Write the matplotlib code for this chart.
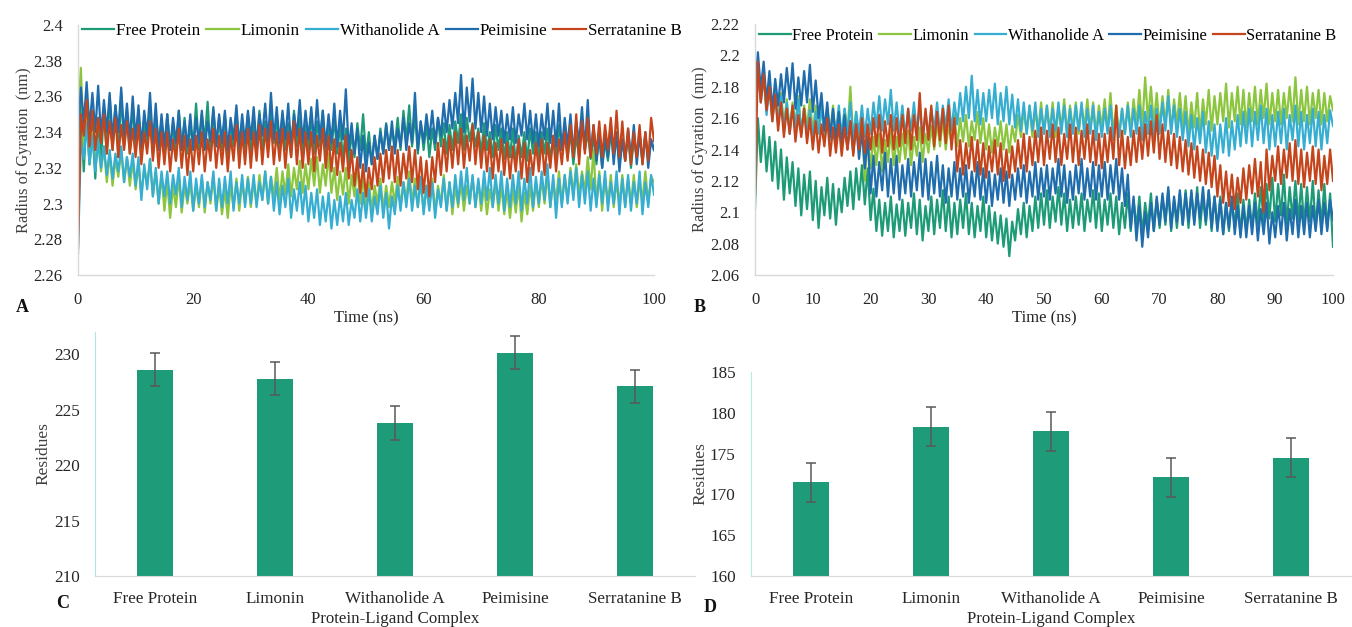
import numpy as np
import matplotlib
matplotlib.use("Agg")
import matplotlib.pyplot as plt
from matplotlib.ticker import FuncFormatter

plt.rcParams['font.family'] = ['Liberation Serif', 'DejaVu Serif']

# ---------------- data ----------------
series_names = ["Free Protein", "Limonin", "Withanolide A", "Peimisine", "Serratanine B"]
series_colors = ["#1d9a76", "#8cc63f", "#35aed2", "#1f6dad", "#c4451c"]
time_ns = np.arange(0, 100.5, 0.5)

A_free = [2.330, 2.355, 2.318, 2.350, 2.322, 2.345, 2.314, 2.348, 2.325, 2.352,
          2.328, 2.360, 2.330, 2.355, 2.326, 2.362, 2.332, 2.350, 2.328, 2.356,
          2.330, 2.352, 2.325, 2.348, 2.332, 2.355, 2.328, 2.350, 2.334, 2.346,
          2.326, 2.350, 2.330, 2.345, 2.324, 2.352, 2.330, 2.348, 2.328, 2.344,
          2.332, 2.356, 2.330, 2.350, 2.335, 2.357, 2.328, 2.352, 2.333, 2.348,
          2.330, 2.350, 2.326, 2.346, 2.332, 2.352, 2.328, 2.345, 2.330, 2.350,
          2.326, 2.348, 2.332, 2.352, 2.328, 2.346, 2.330, 2.355, 2.334, 2.348,
          2.328, 2.350, 2.330, 2.345, 2.326, 2.352, 2.332, 2.348, 2.328, 2.344,
          2.330, 2.350, 2.328, 2.346, 2.332, 2.352, 2.326, 2.345, 2.330, 2.348,
          2.328, 2.344, 2.325, 2.342, 2.322, 2.340, 2.326, 2.345, 2.330, 2.350,
          2.326, 2.340, 2.322, 2.338, 2.325, 2.342, 2.328, 2.345, 2.330, 2.342,
          2.332, 2.348, 2.330, 2.352, 2.335, 2.355, 2.332, 2.350, 2.328, 2.346,
          2.330, 2.345, 2.326, 2.342, 2.330, 2.348, 2.332, 2.345, 2.328, 2.344,
          2.330, 2.346, 2.334, 2.350, 2.330, 2.348, 2.335, 2.345, 2.332, 2.342,
          2.328, 2.345, 2.330, 2.340, 2.326, 2.344, 2.330, 2.342, 2.325, 2.340,
          2.326, 2.342, 2.322, 2.338, 2.326, 2.340, 2.324, 2.342, 2.328, 2.340,
          2.325, 2.340, 2.328, 2.342, 2.324, 2.338, 2.326, 2.344, 2.330, 2.342,
          2.326, 2.340, 2.322, 2.338, 2.326, 2.345, 2.330, 2.340, 2.325, 2.338,
          2.322, 2.338, 2.320, 2.335, 2.324, 2.340, 2.326, 2.338, 2.322, 2.336,
          2.324, 2.338, 2.320, 2.336, 2.326, 2.340, 2.322, 2.338, 2.325, 2.335,
          2.330]
A_lim = [2.350, 2.376, 2.330, 2.360, 2.322, 2.340, 2.320, 2.335, 2.318, 2.332,
         2.312, 2.328, 2.310, 2.325, 2.315, 2.330, 2.312, 2.326, 2.310, 2.324,
         2.308, 2.322, 2.305, 2.320, 2.310, 2.325, 2.304, 2.318, 2.300, 2.316,
         2.296, 2.312, 2.292, 2.310, 2.298, 2.315, 2.295, 2.310, 2.300, 2.312,
         2.296, 2.310, 2.298, 2.314, 2.295, 2.312, 2.300, 2.316, 2.296, 2.310,
         2.294, 2.308, 2.292, 2.310, 2.298, 2.314, 2.296, 2.312, 2.300, 2.315,
         2.298, 2.312, 2.300, 2.316, 2.302, 2.318, 2.300, 2.315, 2.304, 2.320,
         2.302, 2.318, 2.305, 2.322, 2.304, 2.320, 2.308, 2.324, 2.306, 2.322,
         2.308, 2.325, 2.310, 2.326, 2.306, 2.322, 2.310, 2.328, 2.306, 2.320,
         2.302, 2.318, 2.305, 2.320, 2.300, 2.316, 2.304, 2.322, 2.300, 2.315,
         2.298, 2.312, 2.296, 2.310, 2.300, 2.314, 2.296, 2.310, 2.298, 2.312,
         2.300, 2.315, 2.298, 2.312, 2.302, 2.318, 2.300, 2.314, 2.298, 2.312,
         2.296, 2.310, 2.298, 2.314, 2.295, 2.310, 2.300, 2.316, 2.296, 2.312,
         2.294, 2.310, 2.298, 2.312, 2.296, 2.310, 2.300, 2.315, 2.298, 2.312,
         2.296, 2.310, 2.294, 2.308, 2.298, 2.312, 2.296, 2.310, 2.294, 2.308,
         2.292, 2.308, 2.295, 2.310, 2.290, 2.306, 2.294, 2.310, 2.296, 2.312,
         2.298, 2.314, 2.300, 2.316, 2.298, 2.312, 2.302, 2.318, 2.300, 2.316,
         2.302, 2.320, 2.305, 2.322, 2.304, 2.318, 2.306, 2.326, 2.308, 2.330,
         2.300, 2.318, 2.296, 2.314, 2.300, 2.316, 2.298, 2.312, 2.300, 2.316,
         2.298, 2.314, 2.300, 2.316, 2.298, 2.312, 2.302, 2.318, 2.300, 2.315,
         2.312]
A_with = [2.272, 2.335, 2.325, 2.345, 2.322, 2.338, 2.318, 2.335, 2.320, 2.332,
          2.316, 2.330, 2.314, 2.328, 2.318, 2.332, 2.312, 2.326, 2.315, 2.328,
          2.310, 2.326, 2.302, 2.322, 2.308, 2.325, 2.304, 2.320, 2.300, 2.318,
          2.304, 2.318, 2.300, 2.316, 2.305, 2.320, 2.298, 2.315, 2.302, 2.318,
          2.296, 2.314, 2.300, 2.316, 2.298, 2.312, 2.302, 2.318, 2.296, 2.314,
          2.298, 2.315, 2.300, 2.318, 2.296, 2.312, 2.300, 2.316, 2.298, 2.314,
          2.300, 2.316, 2.298, 2.312, 2.302, 2.318, 2.300, 2.315, 2.296, 2.312,
          2.294, 2.310, 2.298, 2.314, 2.292, 2.308, 2.296, 2.312, 2.294, 2.310,
          2.290, 2.306, 2.292, 2.308, 2.288, 2.304, 2.290, 2.306, 2.286, 2.302,
          2.288, 2.304, 2.290, 2.306, 2.288, 2.302, 2.292, 2.308, 2.290, 2.306,
          2.292, 2.308, 2.290, 2.304, 2.294, 2.310, 2.292, 2.306, 2.286, 2.304,
          2.294, 2.310, 2.296, 2.312, 2.298, 2.314, 2.296, 2.310, 2.298, 2.315,
          2.294, 2.310, 2.296, 2.312, 2.292, 2.308, 2.298, 2.314, 2.296, 2.312,
          2.298, 2.316, 2.300, 2.318, 2.302, 2.320, 2.300, 2.316, 2.298, 2.314,
          2.300, 2.318, 2.302, 2.320, 2.298, 2.316, 2.300, 2.318, 2.296, 2.314,
          2.298, 2.316, 2.300, 2.318, 2.296, 2.314, 2.300, 2.320, 2.298, 2.315,
          2.300, 2.318, 2.302, 2.322, 2.298, 2.316, 2.292, 2.314, 2.298, 2.316,
          2.300, 2.318, 2.302, 2.320, 2.298, 2.316, 2.300, 2.318, 2.296, 2.314,
          2.298, 2.316, 2.300, 2.318, 2.296, 2.312, 2.300, 2.318, 2.294, 2.314,
          2.298, 2.316, 2.296, 2.312, 2.300, 2.318, 2.294, 2.312, 2.298, 2.316,
          2.305]
A_peim = [2.340, 2.365, 2.345, 2.368, 2.342, 2.362, 2.340, 2.366, 2.338, 2.358,
          2.340, 2.362, 2.336, 2.355, 2.340, 2.365, 2.338, 2.356, 2.335, 2.360,
          2.336, 2.355, 2.332, 2.352, 2.338, 2.362, 2.334, 2.356, 2.330, 2.350,
          2.332, 2.350, 2.330, 2.348, 2.334, 2.352, 2.330, 2.346, 2.332, 2.350,
          2.330, 2.348, 2.334, 2.352, 2.330, 2.346, 2.335, 2.354, 2.332, 2.350,
          2.334, 2.352, 2.330, 2.348, 2.336, 2.355, 2.332, 2.350, 2.334, 2.352,
          2.336, 2.354, 2.332, 2.350, 2.338, 2.356, 2.335, 2.362, 2.336, 2.354,
          2.334, 2.352, 2.336, 2.356, 2.332, 2.350, 2.338, 2.358, 2.334, 2.352,
          2.336, 2.354, 2.334, 2.358, 2.336, 2.352, 2.332, 2.350, 2.334, 2.356,
          2.332, 2.352, 2.336, 2.364, 2.330, 2.345, 2.328, 2.342, 2.320, 2.338,
          2.318, 2.334, 2.322, 2.338, 2.325, 2.340, 2.328, 2.344, 2.330, 2.346,
          2.328, 2.342, 2.332, 2.348, 2.330, 2.345, 2.334, 2.362, 2.330, 2.346,
          2.334, 2.350, 2.336, 2.352, 2.334, 2.348, 2.338, 2.356, 2.340, 2.358,
          2.342, 2.362, 2.345, 2.372, 2.340, 2.365, 2.346, 2.370, 2.342, 2.362,
          2.340, 2.360, 2.338, 2.356, 2.336, 2.354, 2.338, 2.352, 2.334, 2.350,
          2.336, 2.354, 2.334, 2.350, 2.338, 2.356, 2.336, 2.352, 2.334, 2.350,
          2.332, 2.350, 2.336, 2.356, 2.334, 2.352, 2.332, 2.356, 2.330, 2.348,
          2.332, 2.350, 2.328, 2.346, 2.334, 2.354, 2.330, 2.358, 2.326, 2.344,
          2.324, 2.340, 2.320, 2.338, 2.326, 2.345, 2.322, 2.340, 2.318, 2.336,
          2.324, 2.342, 2.326, 2.344, 2.322, 2.338, 2.324, 2.340, 2.320, 2.336,
          2.330]
A_serr = [2.275, 2.350, 2.338, 2.358, 2.332, 2.352, 2.330, 2.348, 2.334, 2.350,
          2.328, 2.346, 2.330, 2.348, 2.326, 2.344, 2.330, 2.346, 2.328, 2.342,
          2.326, 2.344, 2.322, 2.340, 2.328, 2.346, 2.324, 2.342, 2.320, 2.340,
          2.322, 2.340, 2.318, 2.336, 2.324, 2.342, 2.320, 2.338, 2.316, 2.336,
          2.318, 2.338, 2.322, 2.340, 2.318, 2.336, 2.324, 2.342, 2.320, 2.338,
          2.322, 2.340, 2.318, 2.338, 2.324, 2.344, 2.320, 2.340, 2.322, 2.342,
          2.320, 2.340, 2.324, 2.344, 2.322, 2.342, 2.326, 2.346, 2.322, 2.340,
          2.324, 2.342, 2.320, 2.340, 2.326, 2.346, 2.322, 2.342, 2.320, 2.340,
          2.322, 2.340, 2.318, 2.338, 2.324, 2.342, 2.320, 2.338, 2.318, 2.336,
          2.316, 2.334, 2.318, 2.338, 2.314, 2.330, 2.310, 2.326, 2.306, 2.322,
          2.304, 2.320, 2.308, 2.326, 2.310, 2.328, 2.312, 2.330, 2.314, 2.332,
          2.312, 2.330, 2.310, 2.328, 2.314, 2.332, 2.312, 2.330, 2.308, 2.326,
          2.306, 2.324, 2.304, 2.326, 2.312, 2.334, 2.316, 2.336, 2.318, 2.338,
          2.320, 2.340, 2.322, 2.342, 2.320, 2.338, 2.324, 2.344, 2.322, 2.340,
          2.320, 2.338, 2.318, 2.336, 2.314, 2.334, 2.318, 2.336, 2.316, 2.334,
          2.314, 2.332, 2.318, 2.336, 2.314, 2.334, 2.312, 2.330, 2.316, 2.334,
          2.318, 2.336, 2.316, 2.334, 2.320, 2.338, 2.318, 2.336, 2.322, 2.340,
          2.324, 2.344, 2.326, 2.350, 2.322, 2.346, 2.328, 2.348, 2.326, 2.344,
          2.328, 2.346, 2.326, 2.344, 2.330, 2.348, 2.328, 2.352, 2.326, 2.346,
          2.324, 2.342, 2.322, 2.340, 2.326, 2.344, 2.322, 2.340, 2.324, 2.348,
          2.335]

B_free = [2.102, 2.160, 2.132, 2.155, 2.126, 2.148, 2.120, 2.145, 2.115, 2.140,
          2.108, 2.135, 2.112, 2.132, 2.104, 2.128, 2.098, 2.124, 2.102, 2.126,
          2.095, 2.120, 2.090, 2.116, 2.098, 2.122, 2.096, 2.118, 2.092, 2.115,
          2.100, 2.122, 2.104, 2.126, 2.102, 2.128, 2.108, 2.130, 2.105, 2.128,
          2.095, 2.115, 2.088, 2.108, 2.085, 2.106, 2.088, 2.110, 2.084, 2.105,
          2.088, 2.108, 2.085, 2.106, 2.090, 2.112, 2.086, 2.108, 2.082, 2.104,
          2.088, 2.110, 2.086, 2.108, 2.090, 2.114, 2.088, 2.110, 2.084, 2.106,
          2.086, 2.108, 2.090, 2.112, 2.086, 2.106, 2.084, 2.104, 2.088, 2.110,
          2.084, 2.104, 2.082, 2.100, 2.080, 2.098, 2.078, 2.096, 2.072, 2.094,
          2.082, 2.102, 2.086, 2.106, 2.084, 2.104, 2.088, 2.110, 2.090, 2.112,
          2.092, 2.114, 2.090, 2.110, 2.094, 2.116, 2.092, 2.112, 2.088, 2.108,
          2.090, 2.110, 2.092, 2.112, 2.088, 2.108, 2.094, 2.114, 2.090, 2.112,
          2.088, 2.108, 2.092, 2.112, 2.090, 2.110, 2.086, 2.106, 2.090, 2.112,
          2.088, 2.108, 2.090, 2.110, 2.086, 2.106, 2.092, 2.112, 2.088, 2.108,
          2.090, 2.110, 2.092, 2.114, 2.088, 2.108, 2.090, 2.112, 2.092, 2.114,
          2.090, 2.112, 2.094, 2.116, 2.090, 2.110, 2.092, 2.114, 2.088, 2.110,
          2.090, 2.110, 2.086, 2.106, 2.088, 2.108, 2.090, 2.112, 2.086, 2.108,
          2.088, 2.108, 2.090, 2.112, 2.092, 2.116, 2.094, 2.118, 2.096, 2.122,
          2.094, 2.118, 2.098, 2.124, 2.092, 2.116, 2.096, 2.120, 2.094, 2.118,
          2.092, 2.116, 2.094, 2.120, 2.090, 2.114, 2.092, 2.118, 2.090, 2.112,
          2.078]
B_lim = [2.170, 2.195, 2.172, 2.190, 2.165, 2.185, 2.160, 2.180, 2.158, 2.176,
         2.155, 2.172, 2.152, 2.170, 2.156, 2.174, 2.150, 2.168, 2.154, 2.172,
         2.150, 2.168, 2.152, 2.170, 2.148, 2.166, 2.150, 2.168, 2.146, 2.164,
         2.148, 2.166, 2.150, 2.180, 2.146, 2.164, 2.140, 2.160, 2.120, 2.150,
         2.128, 2.148, 2.130, 2.150, 2.126, 2.146, 2.132, 2.152, 2.130, 2.148,
         2.132, 2.150, 2.134, 2.152, 2.130, 2.148, 2.136, 2.154, 2.132, 2.150,
         2.138, 2.155, 2.140, 2.158, 2.142, 2.160, 2.140, 2.156, 2.144, 2.162,
         2.142, 2.160, 2.145, 2.162, 2.142, 2.158, 2.146, 2.164, 2.144, 2.160,
         2.140, 2.156, 2.138, 2.154, 2.142, 2.158, 2.140, 2.156, 2.138, 2.155,
         2.145, 2.162, 2.148, 2.166, 2.150, 2.168, 2.148, 2.165, 2.152, 2.170,
         2.150, 2.168, 2.152, 2.170, 2.148, 2.166, 2.154, 2.172, 2.150, 2.168,
         2.152, 2.170, 2.150, 2.168, 2.154, 2.172, 2.152, 2.170, 2.150, 2.168,
         2.154, 2.172, 2.152, 2.176, 2.150, 2.168, 2.148, 2.166, 2.150, 2.170,
         2.152, 2.172, 2.156, 2.178, 2.154, 2.186, 2.158, 2.180, 2.156, 2.176,
         2.154, 2.174, 2.156, 2.178, 2.152, 2.172, 2.156, 2.176, 2.154, 2.174,
         2.150, 2.170, 2.154, 2.176, 2.150, 2.172, 2.156, 2.178, 2.152, 2.174,
         2.156, 2.176, 2.158, 2.182, 2.154, 2.176, 2.158, 2.180, 2.156, 2.178,
         2.154, 2.176, 2.158, 2.180, 2.156, 2.178, 2.160, 2.182, 2.156, 2.176,
         2.158, 2.178, 2.156, 2.176, 2.160, 2.180, 2.158, 2.186, 2.156, 2.178,
         2.158, 2.180, 2.156, 2.176, 2.160, 2.178, 2.156, 2.176, 2.158, 2.174,
         2.165]
B_with = [2.165, 2.190, 2.170, 2.186, 2.162, 2.180, 2.158, 2.176, 2.156, 2.174,
          2.152, 2.170, 2.150, 2.168, 2.154, 2.172, 2.150, 2.166, 2.148, 2.165,
          2.146, 2.164, 2.150, 2.168, 2.148, 2.166, 2.146, 2.164, 2.150, 2.168,
          2.148, 2.166, 2.150, 2.170, 2.146, 2.164, 2.150, 2.168, 2.148, 2.166,
          2.150, 2.170, 2.154, 2.174, 2.152, 2.172, 2.156, 2.178, 2.152, 2.170,
          2.150, 2.168, 2.148, 2.166, 2.152, 2.170, 2.150, 2.168, 2.146, 2.164,
          2.148, 2.166, 2.152, 2.170, 2.150, 2.168, 2.154, 2.172, 2.152, 2.170,
          2.156, 2.176, 2.158, 2.180, 2.160, 2.187, 2.158, 2.178, 2.156, 2.176,
          2.158, 2.178, 2.160, 2.182, 2.156, 2.176, 2.158, 2.180, 2.156, 2.175,
          2.154, 2.172, 2.152, 2.170, 2.150, 2.168, 2.152, 2.170, 2.148, 2.166,
          2.150, 2.168, 2.148, 2.166, 2.152, 2.170, 2.150, 2.168, 2.148, 2.166,
          2.150, 2.168, 2.152, 2.170, 2.148, 2.166, 2.150, 2.168, 2.146, 2.164,
          2.148, 2.166, 2.150, 2.168, 2.146, 2.164, 2.148, 2.166, 2.150, 2.168,
          2.148, 2.166, 2.150, 2.168, 2.146, 2.164, 2.150, 2.168, 2.148, 2.166,
          2.150, 2.170, 2.152, 2.174, 2.150, 2.168, 2.148, 2.166, 2.146, 2.164,
          2.142, 2.162, 2.140, 2.160, 2.144, 2.164, 2.138, 2.158, 2.136, 2.156,
          2.134, 2.156, 2.138, 2.160, 2.136, 2.158, 2.140, 2.162, 2.142, 2.164,
          2.144, 2.166, 2.142, 2.164, 2.146, 2.168, 2.144, 2.166, 2.140, 2.162,
          2.142, 2.164, 2.144, 2.166, 2.140, 2.162, 2.146, 2.168, 2.142, 2.164,
          2.140, 2.162, 2.144, 2.166, 2.142, 2.164, 2.140, 2.162, 2.144, 2.165,
          2.155]
B_peim = [2.175, 2.202, 2.178, 2.196, 2.170, 2.190, 2.165, 2.185, 2.168, 2.188,
          2.170, 2.192, 2.172, 2.195, 2.166, 2.186, 2.168, 2.190, 2.170, 2.194,
          2.164, 2.184, 2.160, 2.176, 2.152, 2.170, 2.148, 2.166, 2.145, 2.164,
          2.142, 2.162, 2.140, 2.158, 2.138, 2.156, 2.134, 2.152, 2.128, 2.148,
          2.112, 2.136, 2.110, 2.132, 2.114, 2.138, 2.110, 2.134, 2.112, 2.136,
          2.108, 2.130, 2.112, 2.134, 2.110, 2.132, 2.114, 2.138, 2.110, 2.134,
          2.108, 2.132, 2.112, 2.136, 2.110, 2.130, 2.106, 2.128, 2.110, 2.132,
          2.108, 2.128, 2.110, 2.130, 2.106, 2.126, 2.110, 2.132, 2.108, 2.128,
          2.106, 2.126, 2.104, 2.124, 2.108, 2.128, 2.106, 2.126, 2.104, 2.124,
          2.108, 2.128, 2.110, 2.130, 2.106, 2.126, 2.110, 2.132, 2.108, 2.128,
          2.110, 2.130, 2.108, 2.128, 2.112, 2.134, 2.110, 2.130, 2.106, 2.126,
          2.108, 2.130, 2.112, 2.134, 2.108, 2.128, 2.110, 2.132, 2.108, 2.130,
          2.110, 2.132, 2.108, 2.130, 2.112, 2.134, 2.108, 2.128, 2.104, 2.124,
          2.090, 2.110, 2.082, 2.104, 2.078, 2.100, 2.084, 2.106, 2.088, 2.110,
          2.092, 2.112, 2.094, 2.116, 2.090, 2.110, 2.094, 2.114, 2.092, 2.112,
          2.094, 2.114, 2.092, 2.112, 2.096, 2.116, 2.094, 2.114, 2.090, 2.110,
          2.088, 2.108, 2.086, 2.106, 2.090, 2.110, 2.086, 2.104, 2.084, 2.104,
          2.084, 2.104, 2.086, 2.106, 2.082, 2.102, 2.086, 2.106, 2.080, 2.100,
          2.084, 2.104, 2.086, 2.106, 2.082, 2.102, 2.086, 2.108, 2.084, 2.104,
          2.086, 2.106, 2.084, 2.104, 2.088, 2.108, 2.086, 2.106, 2.088, 2.108,
          2.095]
B_serr = [2.110, 2.196, 2.170, 2.188, 2.165, 2.180, 2.158, 2.175, 2.152, 2.170,
          2.148, 2.166, 2.150, 2.168, 2.145, 2.162, 2.148, 2.166, 2.144, 2.160,
          2.140, 2.158, 2.138, 2.156, 2.142, 2.160, 2.136, 2.154, 2.138, 2.156,
          2.136, 2.154, 2.140, 2.158, 2.136, 2.156, 2.140, 2.160, 2.138, 2.156,
          2.140, 2.160, 2.142, 2.162, 2.138, 2.158, 2.142, 2.162, 2.140, 2.160,
          2.142, 2.162, 2.144, 2.166, 2.140, 2.162, 2.146, 2.176, 2.144, 2.166,
          2.146, 2.168, 2.142, 2.164, 2.146, 2.166, 2.144, 2.168, 2.140, 2.160,
          2.126, 2.146, 2.124, 2.144, 2.128, 2.148, 2.126, 2.146, 2.124, 2.144,
          2.122, 2.142, 2.126, 2.146, 2.124, 2.144, 2.120, 2.140, 2.122, 2.142,
          2.126, 2.146, 2.128, 2.150, 2.126, 2.148, 2.130, 2.152, 2.132, 2.154,
          2.130, 2.152, 2.134, 2.156, 2.132, 2.154, 2.130, 2.150, 2.134, 2.156,
          2.132, 2.154, 2.130, 2.152, 2.134, 2.156, 2.132, 2.152, 2.130, 2.150,
          2.128, 2.150, 2.132, 2.154, 2.134, 2.168, 2.130, 2.152, 2.128, 2.148,
          2.130, 2.152, 2.132, 2.154, 2.134, 2.156, 2.136, 2.158, 2.138, 2.162,
          2.134, 2.156, 2.132, 2.152, 2.130, 2.150, 2.128, 2.148, 2.126, 2.146,
          2.124, 2.144, 2.122, 2.142, 2.120, 2.140, 2.118, 2.138, 2.116, 2.136,
          2.110, 2.130, 2.106, 2.126, 2.104, 2.124, 2.102, 2.122, 2.106, 2.128,
          2.108, 2.130, 2.112, 2.134, 2.110, 2.132, 2.100, 2.140, 2.114, 2.136,
          2.120, 2.142, 2.118, 2.140, 2.122, 2.144, 2.120, 2.146, 2.118, 2.140,
          2.116, 2.138, 2.120, 2.142, 2.118, 2.140, 2.114, 2.136, 2.118, 2.140,
          2.120]

bar_categories = ["Free Protein", "Limonin", "Withanolide A", "Peimisine", "Serratanine B"]
C_values = [228.6, 227.8, 223.8, 230.15, 227.1]
C_errors = [1.5, 1.5, 1.5, 1.5, 1.5]
D_values = [171.5, 178.3, 177.75, 172.1, 174.5]
D_errors = [2.4, 2.4, 2.4, 2.4, 2.4]
bar_color = "#1e9b78"

# ---------------- figure ----------------
W, H = 1352, 627
fig = plt.figure(figsize=(W / 100, H / 100), dpi=100)


def box(l, t, r, b):
    return [l / W, (H - b) / H, (r - l) / W, (b - t) / H]


gfmt = FuncFormatter(lambda v, p: f"{v:g}")
LW = 1.6


def style_line_axes(ax, ymin, ymax, yticks, xticks, ylabelpad):
    ax.set_xlim(0, 100)
    ax.set_ylim(ymin, ymax)
    ax.set_yticks(yticks)
    ax.set_xticks(xticks)
    ax.yaxis.set_major_formatter(gfmt)
    ax.tick_params(length=0, labelsize=12, colors="#262626")
    ax.tick_params(axis="y", pad=11)
    ax.tick_params(axis="x", pad=12)
    for s in ["top", "right"]:
        ax.spines[s].set_visible(False)
    for s in ["left", "bottom"]:
        ax.spines[s].set_color("#d9d9d9")
        ax.spines[s].set_linewidth(1.0)
    ax.set_xlabel("Time (ns)", fontsize=12, color="#262626", labelpad=2)
    ax.set_ylabel("Radius of Gyration  (nm)", fontsize=11.8, color="#404040", labelpad=ylabelpad)


leg_kw = dict(loc="upper left", ncol=5, frameon=False,
              handlelength=1.9, handletextpad=0.1, columnspacing=0.35, borderaxespad=0)

# Panel A
axA = fig.add_axes(box(78, 25, 654, 275))
for name, col, ys in zip(series_names, series_colors, [A_free, A_lim, A_with, A_peim, A_serr]):
    axA.plot(time_ns, ys, color=col, lw=LW, label=name)
style_line_axes(axA, 2.26, 2.40, np.round(np.arange(2.26, 2.401, 0.02), 2), np.arange(0, 101, 20), 1.5)
axA.legend(bbox_to_anchor=(-0.005, 1.037), fontsize=12.3, **leg_kw)

# Panel B
axB = fig.add_axes(box(755, 24, 1333, 275))
for name, col, ys in zip(series_names, series_colors, [B_free, B_lim, B_with, B_peim, B_serr]):
    axB.plot(time_ns, ys, color=col, lw=LW, label=name)
style_line_axes(axB, 2.06, 2.22, np.round(np.arange(2.06, 2.221, 0.02), 2), np.arange(0, 101, 10), 1.5)
axB.legend(bbox_to_anchor=(-0.004, 1.01), fontsize=11.9, **leg_kw)


def style_bar_axes(ax, ymin, ymax, left_col, ylabelpad):
    ax.set_ylim(ymin, ymax)
    ax.set_xlim(-0.5, 4.5)
    ax.tick_params(length=0, labelsize=12.3, colors="#262626")
    ax.tick_params(axis="y", pad=11)
    ax.tick_params(axis="x", pad=11)
    for s in ["top", "right"]:
        ax.spines[s].set_visible(False)
    ax.spines["left"].set_color(left_col)
    ax.spines["bottom"].set_color("#d9d9d9")
    ax.set_xlabel("Protein-Ligand Complex", fontsize=12.2, color="#262626", labelpad=3)
    ax.set_ylabel("Residues", fontsize=12.5, color="#404040", labelpad=ylabelpad)


x = np.arange(len(bar_categories))
axC = fig.add_axes(box(95, 332, 695, 576))
axC.bar(x, C_values, width=0.3, color=bar_color, yerr=C_errors,
        error_kw=dict(ecolor="#595959", elinewidth=1.1, capsize=3.5, capthick=1.1))
axC.set_xticks(x, bar_categories)
axC.set_yticks(np.arange(210, 231, 5))
style_bar_axes(axC, 210, 232, "#b4e2ec", 2)

axD = fig.add_axes(box(751, 372, 1351, 576))
axD.bar(x, D_values, width=0.3, color=bar_color, yerr=D_errors,
        error_kw=dict(ecolor="#595959", elinewidth=1.1, capsize=3.5, capthick=1.1))
axD.set_xticks(x, bar_categories)
axD.set_yticks(np.arange(160, 186, 5))
style_bar_axes(axD, 160, 185, "#b4f0d8", 1)

# Panel letters
for letter, px, py in [("A", 22, 308), ("B", 700, 308), ("C", 63, 604), ("D", 710, 607)]:
    fig.text(px / W, 1 - py / H, letter, fontsize=13, fontweight="bold",
             ha="center", va="center", color="#111111")

fig.savefig("out.png", dpi=100)
